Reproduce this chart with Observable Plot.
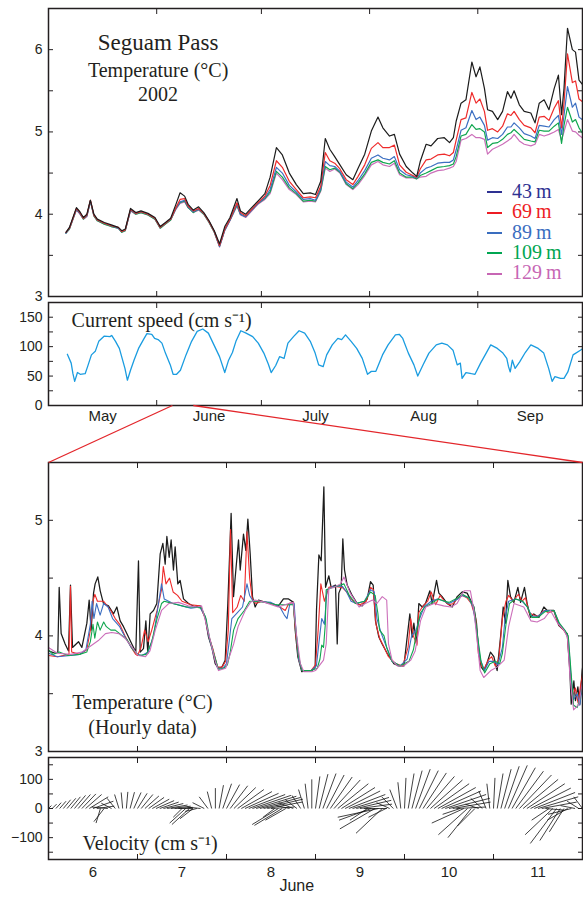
<!DOCTYPE html>
<html><head><meta charset="utf-8">
<script src="https://cdn.jsdelivr.net/npm/d3@7"></script>
<script src="https://cdn.jsdelivr.net/npm/@observablehq/plot@0.6"></script>
<style>
body{margin:0;background:#fff;}
#wrap{position:relative;width:583px;height:898px;overflow:hidden;background:#fff;}
#wrap svg{position:absolute;left:0;overflow:visible;background:transparent;}
.legend{position:absolute;left:487px;top:181px;font-family:'Liberation Serif','Times New Roman',serif;font-size:20px;line-height:20.3px;}
.legend div{white-space:nowrap;}
.legend span.sw{display:inline-block;width:15px;height:2px;vertical-align:middle;margin-right:10px;position:relative;top:-1px;}
</style></head><body><div id="wrap"></div>
<script>
// ---------------- DATA ----------------
// Top panel: smoothed temperature, days since 1 May 2002
const dailyDay = [5,6,8,9,10,11,12,13,14,16,18,20,21,22,23.5,25,26.5,28.5,30.5,32,33.5,35,36.5,37.7,39,40,41.5,43,44.5,46,47.5,49,50.5,52,54,55,56.5,58,60,62,63.5,65.3,67,69,71,73,75,76.5,78,79.3,80.6,82,83.5,85.3,87.2,88.7,90.6,92.5,94.4,95.8,97.7,99.1,100.6,102.5,104.4,105.5,106.5,108.2,109.6,111.5,113.4,114.9,116,116.8,118.2,119.6,121.3,122.5,123.6,124.9,125.8,127.2,128.7,130.1,131.5,132.5,133.4,134.9,136.3,138.2,139.4,140.6,142,143.4,144.9,146.1,147,147.7,148.7,150.1,151,152,152.9];
const temp43 = [3.78,3.84,4.08,4.03,3.96,4.00,4.17,4.00,3.94,3.90,3.87,3.84,3.80,3.82,4.07,4.02,4.04,4.01,3.96,3.85,3.90,3.95,4.12,4.26,4.22,4.12,4.05,4.09,4.02,3.92,3.80,3.64,3.85,3.96,4.19,4.04,4.00,4.07,4.16,4.25,4.45,4.81,4.72,4.50,4.36,4.25,4.26,4.24,4.40,4.92,4.79,4.70,4.60,4.48,4.42,4.56,4.73,5.01,5.18,5.05,4.95,4.97,4.73,4.58,4.50,4.46,4.64,4.85,4.83,4.92,4.93,4.87,4.93,5.13,5.35,5.39,5.85,5.67,5.79,5.53,5.27,5.25,5.15,5.25,5.49,5.41,5.50,5.33,5.25,5.23,5.11,5.35,5.39,5.27,5.53,5.69,5.21,5.53,6.26,6.00,5.97,5.63,5.58];
const temp69 = [3.78,3.83,4.07,4.02,3.95,3.99,4.17,3.99,3.93,3.89,3.86,3.84,3.79,3.81,4.06,4.01,4.03,4.00,3.95,3.84,3.89,3.94,4.08,4.18,4.19,4.10,4.04,4.07,4.01,3.91,3.79,3.62,3.82,3.94,4.14,4.02,3.98,4.05,4.14,4.22,4.35,4.65,4.57,4.40,4.30,4.20,4.21,4.20,4.34,4.75,4.65,4.62,4.55,4.42,4.36,4.46,4.60,4.80,4.87,4.81,4.81,4.84,4.60,4.51,4.47,4.45,4.55,4.66,4.67,4.72,4.73,4.71,4.75,4.90,5.15,5.17,5.48,5.35,5.40,5.25,5.02,5.04,5.00,5.07,5.22,5.20,5.25,5.15,5.08,5.05,4.99,5.18,5.19,5.14,5.29,5.38,5.05,5.35,5.95,5.60,5.62,5.40,5.37];
const temp89 = [3.77,3.83,4.06,4.01,3.95,3.98,4.16,3.99,3.93,3.89,3.86,3.83,3.79,3.81,4.05,4.01,4.03,4.00,3.95,3.84,3.89,3.94,4.07,4.15,4.17,4.09,4.03,4.06,4.01,3.91,3.79,3.61,3.81,3.93,4.12,4.00,3.97,4.04,4.13,4.20,4.30,4.57,4.50,4.35,4.27,4.18,4.19,4.17,4.31,4.64,4.59,4.58,4.52,4.39,4.33,4.41,4.53,4.68,4.72,4.68,4.66,4.70,4.54,4.48,4.46,4.44,4.50,4.56,4.58,4.62,4.63,4.63,4.66,4.78,5.02,5.05,5.26,5.15,5.18,5.08,4.90,4.93,4.92,4.97,5.06,5.06,5.11,5.05,4.98,4.95,4.92,5.08,5.07,5.06,5.15,5.20,4.97,5.20,5.55,5.30,5.35,5.18,5.15];
const temp109 = [3.77,3.82,4.06,4.01,3.94,3.98,4.16,3.98,3.92,3.88,3.85,3.83,3.78,3.80,4.05,4.00,4.02,3.99,3.94,3.83,3.88,3.93,4.07,4.14,4.16,4.08,4.02,4.06,4.00,3.90,3.78,3.61,3.81,3.93,4.11,4.00,3.97,4.04,4.13,4.19,4.27,4.52,4.45,4.32,4.25,4.16,4.17,4.16,4.29,4.58,4.54,4.56,4.51,4.37,4.31,4.38,4.49,4.63,4.66,4.63,4.61,4.65,4.50,4.45,4.45,4.43,4.47,4.50,4.53,4.57,4.58,4.59,4.61,4.70,4.95,4.97,5.09,5.03,5.04,5.00,4.81,4.86,4.87,4.91,4.97,4.99,5.03,4.97,4.91,4.89,4.88,5.02,5.01,5.01,5.07,5.11,4.86,5.08,5.30,5.12,5.15,5.05,4.99];
const temp129 = [3.77,3.82,4.05,4.00,3.94,3.97,4.16,3.98,3.92,3.88,3.85,3.83,3.78,3.80,4.04,4.00,4.02,3.99,3.94,3.83,3.88,3.93,4.06,4.13,4.15,4.08,4.02,4.05,4.00,3.90,3.78,3.60,3.80,3.92,4.10,3.99,3.96,4.03,4.12,4.18,4.25,4.50,4.42,4.30,4.24,4.15,4.16,4.15,4.28,4.56,4.52,4.55,4.50,4.36,4.30,4.36,4.47,4.60,4.64,4.60,4.58,4.62,4.48,4.44,4.44,4.43,4.45,4.46,4.50,4.53,4.54,4.56,4.58,4.64,4.90,4.92,4.97,4.93,4.93,4.91,4.73,4.79,4.82,4.85,4.89,4.92,4.97,4.89,4.85,4.83,4.85,4.97,4.95,4.97,5.00,5.03,4.90,5.00,5.15,5.01,5.00,4.96,4.93];

// Current speed (cm/s), days since 1 May
const speedDay = [5.4,6.5,7.0,7.5,8.3,9.1,10.5,11.2,12.3,13.4,14.4,16,17.6,18.1,19.2,20.3,21.1,21.9,22.6,23.5,24.5,25.8,27.2,28.2,29.6,30.4,31.4,32.5,33.5,34.9,35.7,36.7,37.8,39.4,41,42.6,44.2,45.8,47.4,49,50.5,51.6,52.7,53.7,55.1,56.6,58.5,60.1,61.7,63,63.8,65.1,66.2,67.5,68.6,70.2,71.8,73.4,75,76.4,77.4,78.7,79.7,81.3,82.9,84,85.1,86.7,88.3,89.9,91.4,92.5,93.8,95.7,97.3,99.4,100.5,101.5,103.1,104.7,105.8,107.4,109,111.1,112.7,114.3,115.9,117.1,118,118.5,119.6,121.2,122.2,123.8,125.4,126.7,128.6,130.2,131.3,131.8,132.3,132.9,133.7,135,136.6,138.2,140.3,141.9,143.3,144.3,145.1,146.7,147.7,148.8,150.3,152.4,152.9];
const speed = [87,72,54,41,56,53,54,66,86,92,109,118,117,119,109,97,80,63,43,60,77,97,112,122,121,114,112,106,89,69,53,53,60,86,109,126,130,123,103,83,56,77,90,109,127,123,117,106,89,70,56,68,83,80,106,117,127,123,109,89,69,66,86,103,114,112,120,109,97,80,53,58,58,86,103,120,121,114,89,69,50,70,89,103,106,103,94,69,72,46,56,54,53,72,89,103,97,89,80,66,57,77,63,74,90,103,97,89,63,41,49,46,46,57,86,94,96];

// Hourly temperature, day of June
const hourT43 = [5.50,5.575,5.605,5.620,5.642,5.687,5.725,5.747,5.770,5.837,5.875,5.931,5.957,5.979,6.006,6.024,6.054,6.081,6.118,6.174,6.230,6.268,6.305,6.343,6.380,6.436,6.481,6.511,6.530,6.567,6.594,6.616,6.642,6.680,6.717,6.755,6.785,6.811,6.830,6.856,6.878,6.904,6.923,6.953,6.979,7.017,7.073,7.148,7.204,7.260,7.298,7.335,7.373,7.410,7.448,7.485,7.515,7.541,7.552,7.579,7.605,7.635,7.654,7.691,7.717,7.740,7.766,7.792,7.822,7.860,7.934,8.009,8.084,8.140,8.197,8.253,8.272,8.301,8.346,8.403,8.459,8.496,8.511,8.538,8.564,8.594,8.613,8.650,8.676,8.725,8.744,8.762,8.789,8.807,8.826,8.856,8.912,8.968,9.025,9.081,9.118,9.148,9.174,9.212,9.249,9.305,9.380,9.436,9.493,9.530,9.560,9.586,9.605,9.635,9.661,9.699,9.736,9.785,9.811,9.860,9.886,9.923,9.980,10.036,10.092,10.148,10.204,10.242,10.279,10.309,10.335,10.362,10.392,10.429,10.466,10.504,10.541,10.579,10.609,10.635,10.661,10.691,10.729,10.774,10.804,10.848,10.878,10.916,10.953,11.010,11.066,11.103,11.178,11.234,11.290,11.328,11.358,11.373,11.403,11.421,11.448,11.470,11.496,11.52];
const hour43 = [3.87,3.85,3.86,4.42,4.02,3.93,3.87,4.44,3.90,3.95,3.90,4.11,4.31,4.05,4.37,4.45,4.51,4.39,4.28,4.26,4.19,4.25,4.13,4.08,4.02,3.93,3.86,4.65,3.86,3.89,4.13,3.85,4.19,4.22,4.28,4.71,4.80,4.62,4.86,4.68,4.83,4.57,4.77,4.45,4.48,4.32,4.28,4.25,4.26,4.16,3.99,3.90,3.76,3.72,3.73,3.79,4.28,4.83,5.06,4.34,4.57,4.83,4.57,4.88,4.74,5.01,4.71,4.34,4.25,4.31,4.29,4.28,4.26,4.32,4.32,4.29,4.05,3.82,3.69,3.70,3.70,3.73,4.22,4.70,4.65,5.29,4.42,4.52,4.42,4.44,3.93,4.37,4.42,4.84,4.57,4.44,4.35,4.28,4.26,4.32,4.47,4.44,4.13,3.99,3.93,3.85,3.76,3.74,3.74,3.99,4.19,3.99,4.11,3.93,4.28,4.25,4.28,4.39,4.28,4.48,4.37,4.34,4.28,4.25,4.34,4.38,4.37,4.31,4.25,4.11,3.85,3.73,3.70,3.77,3.86,3.82,3.70,3.99,4.25,4.11,4.48,4.34,4.29,4.42,4.29,4.42,4.28,4.16,4.19,4.16,4.25,4.22,4.22,4.09,4.05,4.02,3.70,3.41,3.61,3.44,3.56,3.41,3.70,3.82];
const hourT69 = [5.50,5.60,5.73,5.747,5.76,5.85,5.93,5.97,6.00,6.02,6.05,6.12,6.20,6.25,6.30,6.36,6.43,6.48,6.50,6.54,6.58,6.62,6.66,6.72,6.77,6.79,6.82,6.86,6.90,6.95,7.00,7.10,7.20,7.26,7.30,7.35,7.40,7.45,7.49,7.52,7.545,7.57,7.62,7.66,7.70,7.73,7.76,7.79,7.83,7.90,8.00,8.10,8.16,8.20,8.25,8.28,8.31,8.35,8.45,8.50,8.53,8.56,8.60,8.65,8.70,8.80,8.85,8.90,8.95,9.00,9.07,9.12,9.15,9.18,9.22,9.26,9.32,9.40,9.48,9.54,9.57,9.60,9.64,9.66,9.70,9.76,9.80,9.85,9.90,9.95,10.00,10.05,10.10,10.15,10.20,10.25,10.30,10.33,10.37,10.40,10.44,10.48,10.52,10.56,10.60,10.64,10.67,10.72,10.78,10.82,10.86,10.90,10.95,11.00,11.07,11.12,11.18,11.23,11.29,11.33,11.36,11.39,11.42,11.45,11.48,11.52];
const hour69 = [3.83,3.82,3.84,4.43,3.86,3.84,3.88,4.05,4.30,4.36,4.30,4.30,4.22,4.15,4.10,4.00,3.90,3.84,3.83,3.90,4.05,3.95,4.05,4.22,4.40,4.60,4.45,4.50,4.38,4.35,4.30,4.27,4.26,4.16,4.00,3.88,3.73,3.73,3.78,4.05,4.92,4.20,4.25,4.35,4.30,4.90,4.50,4.32,4.28,4.30,4.28,4.25,4.22,4.28,4.29,4.00,3.80,3.70,3.70,3.75,4.05,4.45,4.30,4.42,4.43,4.42,4.38,4.32,4.28,4.27,4.30,4.42,4.40,4.10,3.98,3.92,3.82,3.76,3.74,3.90,4.15,4.00,3.92,4.20,4.25,4.30,4.38,4.27,4.35,4.30,4.27,4.28,4.33,4.35,4.33,4.28,4.15,3.85,3.73,3.72,3.79,3.82,3.74,3.80,4.15,4.30,4.35,4.30,4.36,4.30,4.33,4.20,4.18,4.17,4.22,4.20,4.22,4.10,4.05,4.00,3.72,3.48,3.55,3.42,3.58,3.75];
const hourT89 = [5.50,5.60,5.75,5.85,5.92,5.97,5.99,6.01,6.04,6.08,6.12,6.17,6.22,6.30,6.36,6.43,6.50,6.55,6.62,6.68,6.73,6.77,6.80,6.85,6.90,7.00,7.10,7.20,7.26,7.30,7.35,7.40,7.46,7.50,7.53,7.56,7.62,7.68,7.73,7.76,7.80,7.85,8.00,8.10,8.15,8.18,8.21,8.26,8.28,8.31,8.35,8.45,8.51,8.54,8.57,8.60,8.63,8.70,8.80,8.85,8.90,8.96,9.05,9.12,9.16,9.19,9.24,9.30,9.36,9.45,9.53,9.58,9.63,9.67,9.72,9.80,9.87,9.95,10.00,10.10,10.15,10.22,10.27,10.31,10.35,10.40,10.45,10.50,10.55,10.60,10.63,10.67,10.75,10.82,10.88,10.93,11.00,11.08,11.18,11.24,11.30,11.34,11.37,11.40,11.44,11.47,11.52];
const hour89 = [3.85,3.82,3.83,3.84,3.88,4.10,4.30,4.15,4.28,4.18,4.28,4.25,4.15,4.08,3.99,3.90,3.84,3.83,3.86,4.00,4.25,4.45,4.32,4.30,4.28,4.26,4.24,4.25,4.17,4.00,3.86,3.72,3.72,3.76,3.95,4.15,4.20,4.25,4.45,4.35,4.30,4.30,4.29,4.25,4.18,4.15,4.27,4.28,4.05,3.80,3.70,3.70,3.74,3.95,4.15,4.10,4.40,4.43,4.43,4.38,4.30,4.28,4.30,4.40,4.38,4.15,4.02,3.90,3.78,3.74,3.80,4.00,4.05,4.15,4.25,4.30,4.32,4.30,4.28,4.32,4.35,4.33,4.25,4.05,3.80,3.70,3.78,3.78,3.75,3.90,4.15,4.30,4.32,4.30,4.25,4.17,4.17,4.22,4.22,4.10,4.05,3.98,3.65,3.45,3.50,3.40,3.70];
const hourT109 = [5.50,5.55,5.62,5.72,5.85,5.93,5.97,6.00,6.02,6.05,6.08,6.12,6.15,6.20,6.25,6.30,6.38,6.45,6.52,6.60,6.66,6.72,6.77,6.80,6.85,6.95,7.05,7.15,7.22,7.27,7.31,7.36,7.41,7.47,7.51,7.54,7.58,7.63,7.70,7.76,7.82,7.95,8.05,8.15,8.25,8.28,8.31,8.35,8.45,8.52,8.55,8.57,8.59,8.61,8.62,8.70,8.82,8.88,8.95,9.05,9.12,9.17,9.20,9.22,9.27,9.30,9.36,9.45,9.55,9.60,9.64,9.68,9.73,9.80,9.88,9.95,10.00,10.10,10.15,10.22,10.28,10.32,10.36,10.40,10.46,10.52,10.57,10.60,10.64,10.68,10.75,10.83,10.88,10.93,11.00,11.08,11.18,11.24,11.30,11.34,11.37,11.40,11.44,11.47,11.52];
const hour109 = [3.88,3.84,3.86,3.83,3.84,3.86,3.95,4.10,3.98,4.12,4.05,4.12,4.08,4.05,4.05,4.02,3.97,3.88,3.83,3.84,3.95,4.15,4.28,4.30,4.29,4.27,4.25,4.25,4.24,4.15,3.98,3.84,3.71,3.72,3.75,3.85,4.05,4.15,4.22,4.30,4.30,4.29,4.27,4.27,4.27,4.05,3.82,3.70,3.70,3.72,3.80,3.92,3.90,4.10,4.40,4.42,4.45,4.35,4.28,4.30,4.38,4.35,4.20,4.05,4.00,3.90,3.78,3.74,3.78,3.88,4.05,4.20,4.25,4.28,4.32,4.30,4.29,4.33,4.36,4.33,4.25,4.00,3.78,3.68,3.76,3.78,3.76,3.85,4.10,4.28,4.32,4.30,4.25,4.16,4.16,4.21,4.22,4.11,4.05,4.00,3.70,3.40,3.38,3.45,3.68];
const hourT129 = [5.50,5.60,5.75,5.875,5.95,6.06,6.14,6.21,6.29,6.36,6.44,6.51,6.59,6.64,6.70,6.77,6.85,6.96,7.07,7.17,7.22,7.30,7.37,7.41,7.49,7.52,7.58,7.63,7.71,7.77,7.82,7.93,8.08,8.20,8.25,8.29,8.33,8.37,8.46,8.50,8.59,8.62,8.65,8.71,8.78,8.82,8.89,8.99,9.06,9.14,9.19,9.25,9.30,9.32,9.36,9.42,9.49,9.57,9.62,9.68,9.74,9.83,9.94,10.02,10.09,10.17,10.24,10.28,10.32,10.35,10.39,10.47,10.54,10.62,10.67,10.73,10.84,10.92,10.99,11.07,11.14,11.22,11.29,11.33,11.36,11.40,11.46,11.52];
const hour129 = [3.90,3.85,3.84,3.86,3.90,3.96,4.02,4.03,4.02,3.98,3.90,3.83,3.82,3.87,4.05,4.22,4.28,4.29,4.26,4.25,4.26,4.02,3.79,3.70,3.72,3.79,3.93,4.08,4.22,4.29,4.31,4.29,4.25,4.28,4.29,3.99,3.76,3.69,3.69,3.70,3.79,3.93,4.41,4.42,4.45,4.51,4.37,4.25,4.28,4.31,4.28,4.34,4.31,3.93,3.79,3.74,3.74,3.79,3.87,4.13,4.25,4.28,4.26,4.25,4.28,4.39,4.39,4.22,3.93,3.70,3.64,3.70,3.73,3.79,4.08,4.28,4.25,4.13,4.12,4.15,4.22,4.11,4.05,3.99,3.64,3.36,3.41,3.70];

// Hourly velocity sticks from 5 June 12:00 (one per hour), east (u) and north (v) components, cm/s
const velU = [10,15,18,22,25,30,33,38,42,48,55,65,70,60,-15,-35,-55,-35,-28,-15,-5,5,15,25,33,40,48,53,58,62,65,68,70,68,62,50,-30,-55,-60,-45,-40,-45,-40,-30,-15,0,15,30,45,60,75,90,105,115,125,132,138,140,135,120,80,-40,-90,-95,-70,-45,-50,-40,-30,-20,-10,0,15,30,45,60,75,90,105,115,120,125,125,120,110,80,-60,-110,-120,-140,-90,-60,-45,-40,-25,-10,5,20,35,50,65,80,95,110,120,130,135,140,140,130,100,-60,-110,-100,-80,-60,-45,-40,-25,-10,5,20,35,50,65,80,95,110,120,130,138,140,138,120,60,-60,-95,-90,-70,-50,-70,-80,-50,-40,-30];
const velV = [10,15,20,25,30,35,40,45,48,50,48,40,25,8,-50,-45,5,18,35,48,55,57,56,55,52,48,43,38,32,27,22,17,12,8,4,0,-30,-50,-55,-35,-10,5,20,40,58,70,80,85,82,78,72,65,58,52,48,45,42,38,32,22,5,-30,-55,-58,-40,10,20,30,45,65,85,100,110,118,120,115,108,98,85,72,60,48,38,28,15,0,-40,-40,-70,-30,-85,-30,20,40,65,90,105,120,130,135,130,122,110,98,85,72,60,48,35,22,5,-20,-50,-90,-100,-60,15,35,60,85,105,120,135,145,148,140,128,115,100,85,70,55,40,22,-5,-40,-90,-120,-110,-80,-40,-20,10,25,40];

// Axis / label values
const monthStart = [31, 61, 92, 123];
const monthMid = [15.5, 46, 76.5, 107.5, 138];
const monthNames = ["May", "June", "July", "Aug", "Sep"];
const hourDomain = [5.5, 11.5];
const dayLabels = [6, 7, 8, 9, 10, 11];
const dayTicks = [6.5, 7.5, 8.5, 9.5, 10.5];
const depths = ["43 m", "69 m", "89 m", "109 m", "129 m"];

// ---------------- STYLE ----------------
const W = 583, ML = 48, MR = 1;
const sans = "'Liberation Sans', Arial, Helvetica, sans-serif";
const serif = "'Liberation Serif', 'Times New Roman', Times, serif";
const ink = "#231f20";
const lineColor = {"43 m": "#1c1c1c", "69 m": "#ee2b2b", "89 m": "#3c6fc2", "109 m": "#0fa64e", "129 m": "#cc6fba"};
const legendColor = {"43 m": "#2e3192", "69 m": "#ed1c24", "89 m": "#3a6dbf", "109 m": "#00a651", "129 m": "#c766b4"};
const intFmt = d => d < 0 ? "\u2212" + Math.abs(d) : String(d);

const wrap = document.getElementById("wrap");
const zip = (ts, vs) => ts.map((t, i) => ({t, v: vs[i]}));
const range = (a, b, s) => d3.range(a, b + s / 2, s);
function inTicks(dim, anchor, ticks) {
  const f = dim === "x" ? Plot.axisX : Plot.axisY;
  return f({anchor, ticks, tickSize: -5, tickFormat: () => "", label: null, strokeWidth: 1});
}
function place(svg, top) { svg.style.top = top + "px"; wrap.appendChild(svg); }
const baseStyle = {fontFamily: sans, fontSize: "14px", color: ink, background: "transparent", overflow: "visible"};

// ---------------- PANEL 1 ----------------
const tempSeries = [["129 m", temp129], ["109 m", temp109], ["89 m", temp89], ["69 m", temp69], ["43 m", temp43]];
const p1 = Plot.plot({
  width: W, height: 298, marginLeft: ML, marginRight: MR, marginTop: 8, marginBottom: 2,
  style: baseStyle,
  x: {domain: [0, 153]},
  y: {domain: [3, 6.5]},
  marks: [
    Plot.axisY({anchor: "left", ticks: [3, 4, 5, 6], tickFormat: intFmt, tickSize: 0, tickPadding: 6, label: null, fontSize: 14}),
    inTicks("y", "left", range(3.5, 6, 0.5)),
    inTicks("y", "right", range(3.5, 6, 0.5)),
    inTicks("x", "top", monthStart),
    inTicks("x", "bottom", monthStart),
    ...tempSeries.map(([k, arr]) => Plot.line(zip(dailyDay, arr), {x: "t", y: "v", stroke: lineColor[k], strokeWidth: 1.2})),
    Plot.text([{x: 31.4, y: 6.087, s: "Seguam Pass", f: 23}, {x: 31.4, y: 5.746, s: "Temperature (°C)", f: 20}, {x: 31.4, y: 5.455, s: "2002", f: 20}],
      {x: "x", y: "y", text: "s", fontSize: "f", fontFamily: serif, fill: ink, textAnchor: "middle"}),
    Plot.frame({stroke: ink, strokeWidth: 1.5})
  ]
});
place(p1, 0);

// ---------------- PANEL 2 ----------------
const frameH2 = 103, gap2 = 57;
const zoomLinks = [
  {x1: monthStart[0] + hourDomain[0] - 1, y1: 0, x2: 0, y2: -gap2 * 175 / frameH2},
  {x1: monthStart[0] + hourDomain[1] - 1, y1: 0, x2: 153, y2: -gap2 * 175 / frameH2}
];
const p2 = Plot.plot({
  width: W, height: 4 + frameH2 + 58, marginLeft: ML, marginRight: MR, marginTop: 4, marginBottom: 58,
  style: baseStyle,
  x: {domain: [0, 153]},
  y: {domain: [0, 175]},
  marks: [
    Plot.axisY({anchor: "left", ticks: [0, 50, 100, 150], tickFormat: intFmt, tickSize: 0, tickPadding: 6, label: null, fontSize: 14}),
    inTicks("y", "left", range(25, 150, 25)),
    inTicks("y", "right", range(25, 150, 25)),
    inTicks("x", "top", monthStart),
    inTicks("x", "bottom", monthStart),
    Plot.axisX({anchor: "bottom", ticks: monthMid, tickSize: 0, tickPadding: 5, label: null, fontSize: 15,
      tickFormat: d => monthNames[monthMid.indexOf(d)]}),
    Plot.line(zip(speedDay, speed), {x: "t", y: "v", stroke: "#1a9ce0", strokeWidth: 1.3}),
    Plot.text([{x: 6.6, y: 144, s: "Current speed (cm s\u207B\u00B9)"}],
      {x: "x", y: "y", text: "s", fontSize: 20, fontFamily: serif, fill: ink, textAnchor: "start"}),
    Plot.frame({stroke: ink, strokeWidth: 1.5}),
    Plot.link(zoomLinks, {x1: "x1", y1: "y1", x2: "x2", y2: "y2", stroke: "#e3262b", strokeWidth: 1.3})
  ]
});

// ---------------- PANEL 3 ----------------
const hourSeries = [["43 m", hourT43, hour43], ["69 m", hourT69, hour69], ["89 m", hourT89, hour89], ["109 m", hourT109, hour109], ["129 m", hourT129, hour129]];
const p3 = Plot.plot({
  width: W, height: 4 + 289 + 2, marginLeft: ML, marginRight: MR, marginTop: 4, marginBottom: 2,
  style: baseStyle,
  x: {domain: hourDomain},
  y: {domain: [3, 5.5]},
  marks: [
    Plot.axisY({anchor: "left", ticks: [3, 4, 5], tickFormat: intFmt, tickSize: 0, tickPadding: 6, label: null, fontSize: 14}),
    inTicks("y", "left", range(3.5, 5, 0.5)),
    inTicks("y", "right", range(3.5, 5, 0.5)),
    inTicks("x", "top", dayTicks),
    inTicks("x", "bottom", dayTicks),
    ...hourSeries.map(([k, ts, vs]) => Plot.line(zip(ts, vs), {x: "t", y: "v", stroke: lineColor[k], strokeWidth: k === "43 m" ? 1.25 : 1.1})),
    Plot.text([{x: 6.556, y: 3.424, s: "Temperature (°C)"}, {x: 6.556, y: 3.208, s: "(Hourly data)"}],
      {x: "x", y: "y", text: "s", fontSize: 20, fontFamily: serif, fill: ink, textAnchor: "middle"}),
    Plot.frame({stroke: ink, strokeWidth: 1.5})
  ]
});
place(p3, 458);
place(p2, 298);

// ---------------- PANEL 4 ----------------
const frameH4 = 102, frameW = W - ML - MR;
const k = (frameH4 / 350) / (frameW / (hourDomain[1] - hourDomain[0])); // days per cm/s, same visual scale as y
const sticks = velU.map((u, i) => {
  const t = hourDomain[0] + i / 24;
  return {t, t2: t + u * k, v: velV[i]};
});
const p4 = Plot.plot({
  width: W, height: 4 + frameH4 + 39, marginLeft: ML, marginRight: MR, marginTop: 4, marginBottom: 39,
  style: baseStyle,
  x: {domain: hourDomain},
  y: {domain: [-175, 175]},
  marks: [
    Plot.axisY({anchor: "left", ticks: [-100, 0, 100], tickFormat: intFmt, tickSize: 0, tickPadding: 6, label: null, fontSize: 14}),
    inTicks("y", "left", range(-150, 150, 50)),
    inTicks("y", "right", range(-150, 150, 50)),
    inTicks("x", "top", dayTicks),
    inTicks("x", "bottom", dayTicks),
    Plot.axisX({anchor: "bottom", ticks: dayLabels, tickFormat: intFmt, tickSize: 0, tickPadding: 7, label: null, fontSize: 15}),
    Plot.link(sticks, {x1: "t", y1: () => 0, x2: "t2", y2: "v", stroke: "#111", strokeWidth: 0.8}),
    Plot.text([{x: 5.882, y: -120, s: "Velocity (cm s\u207B\u00B9)"}],
      {x: "x", y: "y", text: "s", fontSize: 20, fontFamily: serif, fill: ink, textAnchor: "start"}),
    Plot.text([{x: 8.29, s: "June"}], {x: "x", text: "s", frameAnchor: "bottom", dy: 31, fontSize: 16, fontFamily: sans, fill: ink}),
    Plot.frame({stroke: ink, strokeWidth: 1.5})
  ]
});
place(p4, 753);

// ---------------- LEGEND ----------------
const leg = document.createElement("div");
leg.className = "legend";
depths.forEach(d => {
  const row = document.createElement("div");
  row.style.color = legendColor[d];
  const sw = document.createElement("span");
  sw.className = "sw"; sw.style.background = legendColor[d];
  row.appendChild(sw);
  row.appendChild(document.createTextNode(d.replace(" ", "\u2009")));
  leg.appendChild(row);
});
wrap.appendChild(leg);
</script>
</body></html>
